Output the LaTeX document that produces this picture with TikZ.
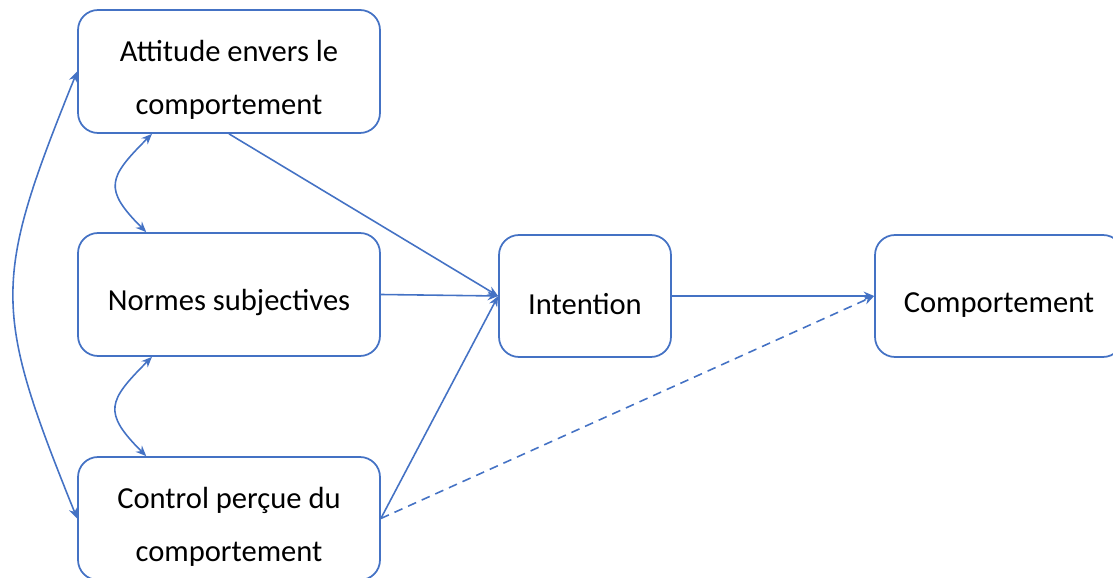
\documentclass[tikz,border=0pt]{standalone}
\usepackage{fontspec}
\setmainfont{Carlito}
\usetikzlibrary{arrows.meta}
\definecolor{LineClr}{rgb}{0.267,0.447,0.769}
\newcommand{\toppad}{\rule{0pt}{21.5pt}}

\begin{document}
\begin{tikzpicture}[x=0.02cm,y=0.02cm,
  box/.style={draw=LineClr,line width=1pt,rounded corners=0.4cm,align=center,
    inner sep=0pt,font=\fontsize{17.4}{30.6}\selectfont},
  link/.style={draw=LineClr,line width=0.9pt,-{Stealth[length=6pt,width=5pt]}},
  both/.style={draw=LineClr,line width=0.9pt,
    {Stealth[length=6pt,width=5pt]}-{Stealth[length=6pt,width=5pt]}}]
\useasboundingbox (0,0) rectangle (1113,578);

\node[box,minimum width=6.04cm,minimum height=2.46cm] (A) at (229,506.5) {\toppad Attitude envers le\\comportement};
\node[box,minimum width=6.04cm,minimum height=2.46cm] (N) at (229,283.5) {\toppad Normes subjectives};
\node[box,minimum width=6.04cm,minimum height=2.46cm] (C) at (229,59.5) {\toppad Control perçue du\\comportement};
\node[box,minimum width=3.44cm,minimum height=2.44cm] (I) at (585,282) {\toppad Intention};
\node[box,minimum width=4.96cm,minimum height=2.44cm] (B) at (999,282) {\toppad Comportement};

\draw[link] (A.south) -- (I.west);
\draw[link] (N.east) -- (I.west);
\draw[link] (C.east) -- (I.west);
\draw[link] (I.east) -- (B.west);
\draw[link,dash pattern=on 5pt off 3.5pt] (C.east) -- (B.west);

\draw[both] (A.219) to[out=225,in=135,looseness=1.6] (N.143);
\draw[both] (N.219) to[out=225,in=135,looseness=1.6] (C.143);
\draw[both] (A.west) to[out=248,in=112,looseness=1.3] (C.west);

\end{tikzpicture}
\end{document}
